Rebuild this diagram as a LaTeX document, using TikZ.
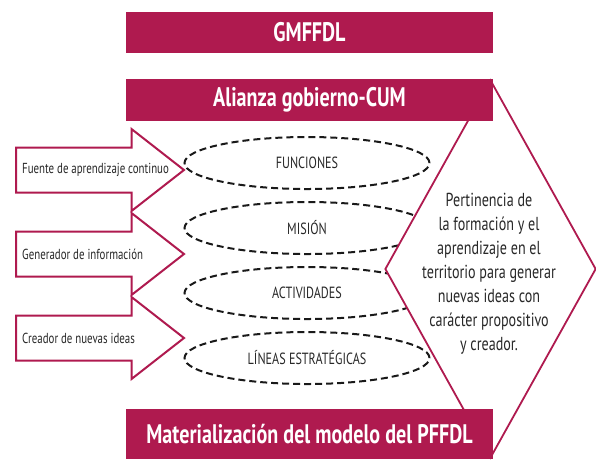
\documentclass[tikz,border=0pt]{standalone}
\usepackage{fontspec}
\setmainfont{PT Sans}[FakeStretch=0.75]
\usepackage{tikz}
\usetikzlibrary{shapes.geometric, shapes.arrows, positioning}
\definecolor{crimson}{RGB}{175,26,79}
\definecolor{inkgray}{RGB}{40,40,40}

\begin{document}
\begin{tikzpicture}[x=1pt, y=-1pt,
    node distance=11pt,
    bar/.style={rectangle, fill=crimson, text=white, minimum width=367pt, minimum height=42pt, inner sep=0pt, font=\fontsize{26.8}{30}\selectfont\bfseries},
    oval/.style={ellipse, draw=black!90, dash pattern=on 7pt off 4pt, line width=2pt, minimum width=245pt, minimum height=52pt, inner sep=0pt, text=inkgray, font=\fontsize{16.2}{18}\selectfont},
    bigarrow/.style={single arrow, draw=crimson, fill=white, line width=2pt, inner xsep=0pt, inner ysep=21.5pt, minimum height=168pt, single arrow head extend=18.5pt, single arrow tip angle=76, single arrow head indent=0pt},
    arrowtext/.style={anchor=west, inner sep=0pt, text=inkgray, font=\fontsize{14.5}{16}\selectfont},
    rhomb/.style={diamond, draw=crimson, fill=white, line width=1.8pt, minimum width=211pt, minimum height=378pt, inner sep=0pt},
    rhombtext/.style={align=center, text=inkgray, font=\fontsize{18.8}{24}\selectfont}
]
\useasboundingbox (0,0) rectangle (596,459);

% block arrows
\node[bigarrow, anchor=tail] (a1) at (15,170) {};
\node[bigarrow, anchor=tail] (a2) at (15,254) {};
\node[bigarrow, anchor=tail] (a3) at (15,338) {};
\node[arrowtext] (t1) at (22,170) {Fuente de aprendizaje continuo};
\node[arrowtext] (t2) at (22,254) {Generador de información};
\node[arrowtext] (t3) at (22,338) {Creador de nuevas ideas};

% dashed ovals
\node[oval] (e1) at (307,163) {FUNCIONES};
\node[oval, below=of e1] (e2) {MISIÓN};
\node[oval, below=of e2] (e3) {ACTIVIDADES};
\node[oval, below=of e3] (e4) {LÍNEAS ESTRATÉGICAS};

% diamond
\node[rhomb] (dm) at (490.5,269) {};
\node[rhombtext] (dmtext) at (489,274) {Pertinencia de\\ la formación y el\\ aprendizaje en el\\ territorio para generar\\ nuevas ideas con\\ carácter propositivo\\ y creador.};

% bars
\node[bar] (b2) at (309.5,100) {Alianza gobierno-CUM};
\node[bar, above=26pt of b2, minimum height=41pt] (b1) {GMFFDL};
\node[bar, minimum height=50pt] (b3) at (309.5,434) {Materialización del modelo del PFFDL};
\end{tikzpicture}
\end{document}
